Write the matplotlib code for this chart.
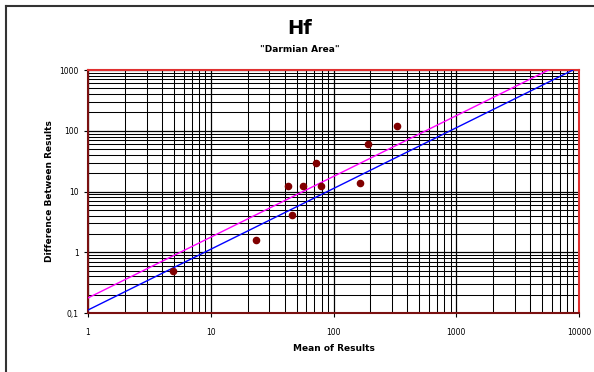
import numpy as np
import matplotlib.pyplot as plt
from matplotlib.lines import Line2D

# data
mean_results = [4.9, 23.2, 42.8, 46.2, 56.8, 71.6, 79.0, 163, 191, 327]
diff_results = [0.50, 1.57, 12.4, 4.1, 12.4, 30.0, 12.4, 14.0, 60.0, 120]

line_x = [1, 10000]
blue_factor = 0.112
magenta_factor = 0.177

xticks = [1, 10, 100, 1000, 10000]
xticklabels = ["1", "10", "100", "1000", "10000"]
yticks = [0.1, 1, 10, 100, 1000]
yticklabels = ["0,1", "1", "10", "100", "1000"]

fig = plt.figure(figsize=(5.94, 3.72), dpi=100)
ax = fig.add_axes([88/594, 1 - 313/372, (579 - 88)/594, (313 - 70)/372])

ax.set_xscale("log")
ax.set_yscale("log")
ax.set_xlim(1, 10000)
ax.set_ylim(0.1, 1000)

# grid: majors and minors, all dark
ax.grid(which="major", color="black", linewidth=0.9)
ax.grid(which="minor", color="black", linewidth=0.75)
ax.set_axisbelow(True)

lx = np.array(line_x, dtype=float)
ax.plot(lx, magenta_factor * lx, color="#ff00ff", linewidth=1.0, zorder=3)
ax.plot(lx, blue_factor * lx, color="#0000ff", linewidth=1.0, zorder=3)

ax.scatter(mean_results, diff_results, s=20, color="#800000", zorder=4)

ax.set_xticks(xticks)
ax.set_xticklabels(xticklabels)
ax.set_yticks(yticks)
ax.set_yticklabels(yticklabels)
ax.tick_params(which="minor", length=0)
ax.tick_params(which="major", labelsize=5.5, length=3, width=0.8)
ax.tick_params(axis="x", pad=8)

for side in ["top", "right"]:
    ax.spines[side].set_color("#e03030")
    ax.spines[side].set_linewidth(1.5)
for side in ["left", "bottom"]:
    ax.spines[side].set_color("#7a1010")
    ax.spines[side].set_linewidth(1.5)

ax.set_xlabel("Mean of Results", fontsize=6.5, fontweight="bold", labelpad=5)
ax.set_ylabel("Difference Between Results", fontsize=6.5, fontweight="bold", labelpad=4)

fig.text(300/594, 1 - 29/372, "Hf", fontsize=14, fontweight="bold",
         ha="center", va="center")
fig.text(300/594, 1 - 50/372, "\"Darmian Area\"", fontsize=6.5, fontweight="bold",
         ha="center", va="center")

# outer chart frame (only left and top edges are inside the picture)
fig.add_artist(Line2D([5.5/594, 5.5/594], [0, 1 - 5.5/372], color="#333333",
                      linewidth=1.5, transform=fig.transFigure))
fig.add_artist(Line2D([5.5/594, 1], [1 - 5.5/372, 1 - 5.5/372], color="#333333",
                      linewidth=1.5, transform=fig.transFigure))

fig.savefig("out.png", dpi=100)
